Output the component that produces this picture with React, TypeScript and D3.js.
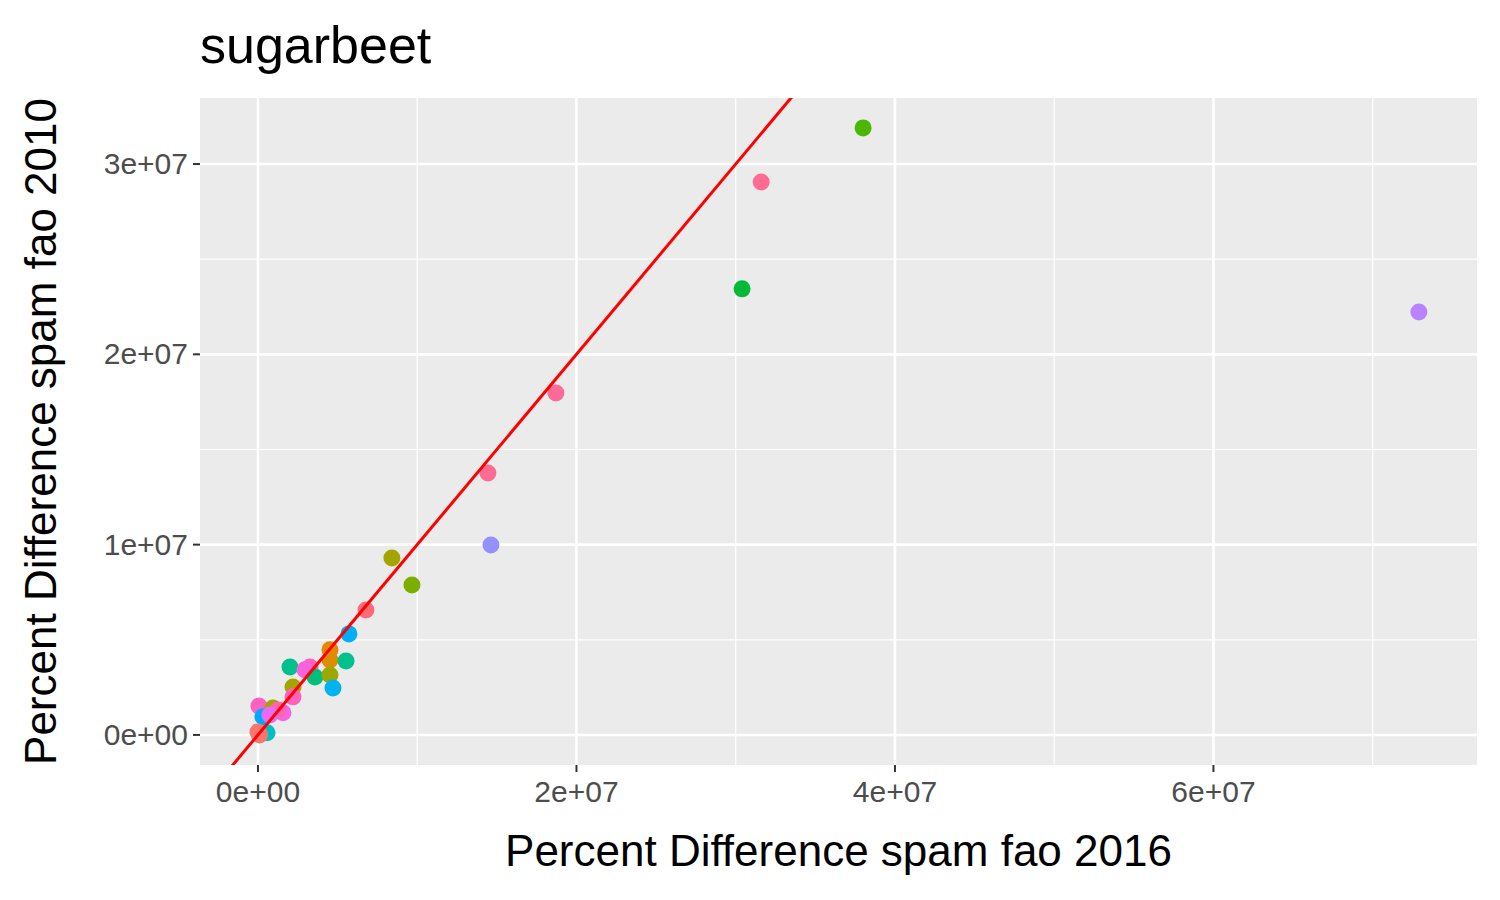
import * as d3 from "d3";

// values (units: raw, not scaled)
const xs = [3.80e7, 3.16e7, 3.04e7, 7.29e7, 1.871e7, 1.444e7, 1.463e7, 0.841e7, 0.967e7, 0.678e7,
  0.571e7, 0.452e7, 0.452e7, 0.553e7, 0.201e7, 0.327e7, 0.295e7, 0.358e7, 0.452e7, 0.471e7,
  0.220e7, 0.220e7, 0.006e7, 0.094e7, 0.157e7, 0.126e7, 0.031e7, 0.075e7, 0.057e7, 0.0, 0.01e7];
const ys = [3.19e7, 2.906e7, 2.344e7, 2.223e7, 1.797e7, 1.377e7, 0.998e7, 0.930e7, 0.788e7, 0.657e7,
  0.531e7, 0.447e7, 0.394e7, 0.389e7, 0.357e7, 0.357e7, 0.342e7, 0.305e7, 0.315e7, 0.247e7,
  0.252e7, 0.200e7, 0.152e7, 0.142e7, 0.116e7, 0.131e7, 0.095e7, 0.105e7, 0.011e7, 0.016e7, 0.0];
const colors = ["#4DB600", "#FF6C91", "#00BA38", "#B983FF", "#FF6A98", "#FF6C91", "#9590FF", "#A3A500", "#7CAE00", "#FF6A79",
  "#00B0F6", "#E58700", "#DE8C00", "#00C08B", "#00C08B", "#FF61C3", "#F962DD", "#00BF7D", "#9CA700", "#00B4EF",
  "#A3A500", "#FF62BC", "#FF61C3", "#A3A500", "#F564E3", "#FF64B0", "#00A9FF", "#E76BF3", "#00BFC4", "#F8766D", "#F8766D"];
const xTicks = [0, 2e7, 4e7, 6e7];
const yTicks = [0, 1e7, 2e7, 3e7];
const fmt = (v: number) => (v === 0 ? "0e+00" : `${v / 1e7}e+07`);

export default function App() {
  const left = 200, right = 1477, top = 98, bottom = 765;
  const x = d3.scaleLinear().domain([-0.364e7, 7.655e7]).range([left, right]);
  const y = d3.scaleLinear().domain([-0.158e7, 3.347e7]).range([bottom, top]);
  const xMinor = [1e7, 3e7, 5e7, 7e7];
  const yMinor = [0.5e7, 1.5e7, 2.5e7];
  const font = "Liberation Sans, Arial, sans-serif";
  const lo = -0.4e7, hi = 3.4e7;
  return (
    <svg width={1500} height={900} style={{ position: "absolute", left: 0, top: 0, background: "#fff" }} fontFamily={font}>
      <defs>
        <clipPath id="p"><rect x={left} y={top} width={right - left} height={bottom - top} /></clipPath>
      </defs>
      <rect x={left} y={top} width={right - left} height={bottom - top} fill="#EBEBEB" />
      {xMinor.map((v) => <line key={"xm" + v} x1={x(v)} x2={x(v)} y1={top} y2={bottom} stroke="#fff" strokeWidth={1.2} />)}
      {yMinor.map((v) => <line key={"ym" + v} y1={y(v)} y2={y(v)} x1={left} x2={right} stroke="#fff" strokeWidth={1.2} />)}
      {xTicks.map((v) => <line key={"x" + v} x1={x(v)} x2={x(v)} y1={top} y2={bottom} stroke="#fff" strokeWidth={2.6} />)}
      {yTicks.map((v) => <line key={"y" + v} y1={y(v)} y2={y(v)} x1={left} x2={right} stroke="#fff" strokeWidth={2.6} />)}
      <g clipPath="url(#p)">
        {xs.map((v, i) => <circle key={i} cx={x(v)} cy={y(ys[i])} r={8.5} fill={colors[i]} />)}
        <line x1={x(lo)} y1={y(lo)} x2={x(hi)} y2={y(hi)} stroke="#FF0000" strokeWidth={3} />
      </g>
      {xTicks.map((v) => (
        <g key={"xt" + v}>
          <line x1={x(v)} x2={x(v)} y1={bottom} y2={bottom + 7} stroke="#333" strokeWidth={2} />
          <text x={x(v)} y={bottom + 37} textAnchor="middle" fontSize={30} fill="#4D4D4D">{fmt(v)}</text>
        </g>
      ))}
      {yTicks.map((v) => (
        <g key={"yt" + v}>
          <line x1={left - 7} x2={left} y1={y(v)} y2={y(v)} stroke="#333" strokeWidth={2} />
          <text x={left - 12} y={y(v) + 10} textAnchor="end" fontSize={30} fill="#4D4D4D">{fmt(v)}</text>
        </g>
      ))}
      <text x={(left + right) / 2} y={866} textAnchor="middle" fontSize={44} fill="#000">Percent Difference spam fao 2016</text>
      <text transform={`translate(56,${(top + bottom) / 2}) rotate(-90)`} textAnchor="middle" fontSize={44} fill="#000">Percent Difference spam fao 2010</text>
      <text x={left} y={63} fontSize={52} fill="#000">sugarbeet</text>
    </svg>
  );
}
